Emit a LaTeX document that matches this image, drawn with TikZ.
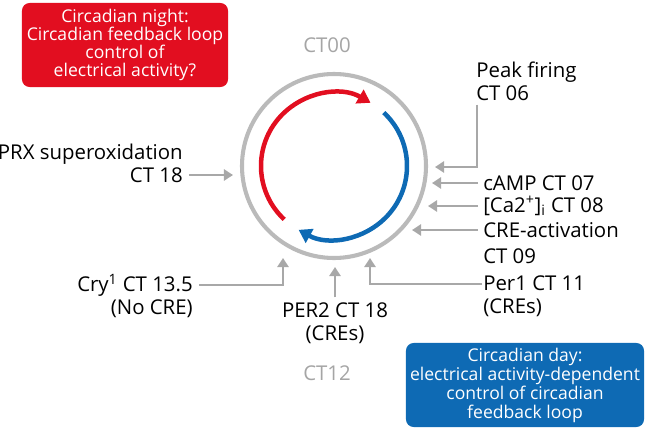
\documentclass[tikz,border=0pt]{standalone}
\usepackage{fontspec}
\setmainfont{Open Sans}
\usepackage{xcolor}
\usetikzlibrary{arrows.meta,positioning}

\definecolor{nightred}{RGB}{226,14,32}
\definecolor{dayblue}{RGB}{14,106,180}
\definecolor{ringgray}{RGB}{186,186,186}
\definecolor{arrowgray}{RGB}{168,168,168}
\definecolor{ctgray}{RGB}{165,165,165}

\begin{document}
\begin{tikzpicture}[x=0.025cm, y=-0.025cm,
    lbl/.style={inner sep=0pt, font=\fontsize{14.5}{16.3}\selectfont},
    ctlbl/.style={lbl, text=ctgray},
    phasebox/.style={rounded corners=5.5pt, text=white, align=center,
      minimum height=2.1cm, inner sep=0pt, font=\fontsize{12.5}{12.8}\selectfont},
    feedarrow/.style={draw=arrowgray, line width=2.1pt, -{Triangle[length=6.5pt,width=8pt]}},
    cyclearc/.style={line width=3.2pt, -{Triangle[length=9pt,width=11pt]}}]

  \def\ctr{(334,166)}
  \useasboundingbox (0,0) rectangle (645,428);

  % clock
  \draw[ringgray, line width=2.9pt] \ctr circle[radius=92];
  \draw[cyclearc, nightred] \ctr ++(133:73) arc[start angle=133, end angle=300, radius=73];
  \draw[cyclearc, dayblue] \ctr ++(313:73) arc[start angle=313, end angle=479, radius=73];

  % night / day boxes
  \node[phasebox, fill=nightred, minimum width=5.15cm] (night) at (125,45)
    {Circadian night:\\Circadian feedback loop\\control of\\electrical activity?};
  \node[phasebox, fill=dayblue, minimum width=5.95cm, font=\fontsize{12.5}{13.5}\selectfont] (day) at (525,385)
    {Circadian day:\\electrical activity-dependent\\control of circadian\\feedback loop};

  \node[ctlbl] (ct00) at (327,45) {CT00};
  \node[ctlbl] (ct12) at (327,373) {CT12};

  % inputs
  \node[lbl, anchor=east, align=right] (prx) at (183,163) {PRX superoxidation\\CT 18};
  \node[lbl, anchor=west, align=left] (peak) at (476,81) {Peak firing\\CT 06};
  \node[lbl, anchor=west] (camp) at (483,183) {cAMP CT 07};
  \node[lbl, anchor=west] (ca) at (483,206) {[Ca2\textsuperscript{+}]\textsubscript{i} CT 08};
  \node[lbl, anchor=west, align=left] (cre) at (483,243) {CRE-activation\\[2pt]CT 09};
  \node[lbl, anchor=west, align=left] (per1) at (483,296) {Per1 CT 11\\(CREs)};
  \node[lbl, align=center] (per2) at (335,323) {PER2 CT 18\\(CREs)};
  \node[lbl, anchor=east, align=right] (cry) at (193,296) {Cry\textsuperscript{1} CT 13.5\\(No CRE)};

  \coordinate (tprx) at (233,175);
  \coordinate (tpeak) at (435,167);
  \coordinate (tcamp) at (432,183);
  \coordinate (tca) at (428,206);
  \coordinate (tcre) at (412,230);
  \coordinate (tper1) at (370,258);
  \coordinate (tper2) at (335,267);
  \coordinate (tcry) at (283,258);

  \draw[feedarrow] ([shift={(6,12)}]prx.east) -- (tprx);
  \draw[feedarrow] ([shift={(1,4)}]peak.south west) |- (tpeak);
  \draw[feedarrow] ([shift={(-5,0)}]camp.west) -- (tcamp);
  \draw[feedarrow] ([shift={(-5,0)}]ca.west) -- (tca);
  \draw[feedarrow] ([shift={(-5,-13)}]cre.west) -- (tcre);
  \draw[feedarrow] ([shift={(-1,-12)}]per1.west) -| (tper1);
  \draw[feedarrow] ([shift={(0,-5)}]per2.north) -- (tper2);
  \draw[feedarrow] ([shift={(6,-11)}]cry.east) -| (tcry);
\end{tikzpicture}
\end{document}
